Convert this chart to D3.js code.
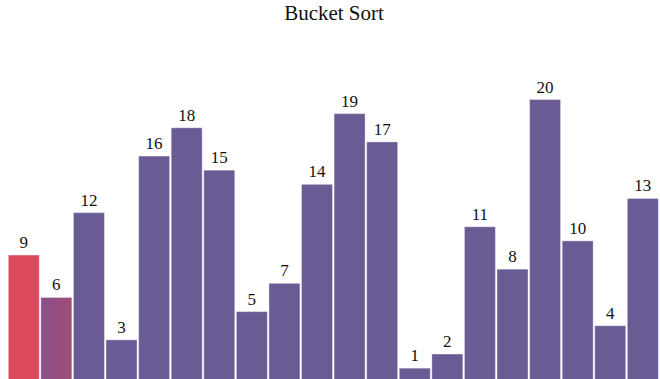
<!DOCTYPE html>
<html><head><meta charset="utf-8">
<script src="https://cdn.jsdelivr.net/npm/d3@7"></script>
<style>html,body{margin:0;padding:0;background:#fff;overflow:hidden}
svg text{font-family:"Times New Roman","Liberation Serif",Times,serif;}</style>
</head><body>
<script>
const title = "Bucket Sort";
const indices = d3.range(20);
const values = [9,6,12,3,16,18,15,5,7,14,19,17,1,2,11,8,20,10,4,13];
const states = ["active","moving","idle","idle","idle","idle","idle","idle","idle","idle","idle","idle","idle","idle","idle","idle","idle","idle","idle","idle"];
const colors = {active:"#da4a5c", moving:"url(#moveGrad)", idle:"#6b5b95"};

const W = 660, H = 379;
const svg = d3.select("body").append("svg").attr("width", W).attr("height", H);
const defs = svg.append("defs");
const g = defs.append("linearGradient").attr("id","moveGrad").attr("x1","0").attr("x2","1").attr("y1","0").attr("y2","0");
g.append("stop").attr("offset","0").attr("stop-color","#88508a");
g.append("stop").attr("offset","1").attr("stop-color","#a04c76");

const x = d3.scaleBand().domain(indices).range([8.3, 658.3]).paddingInner(0.05).paddingOuter(0);
const y = d3.scaleLinear().domain([0, 20]).range([382.3, 99.5]);

svg.append("text").attr("x", 334).attr("y", 20).attr("text-anchor","middle")
  .attr("font-size", 21).attr("fill","#111").text(title);

svg.selectAll("rect.bar").data(values).join("rect").attr("class","bar")
  .attr("x", (d,i) => x(i)).attr("width", x.bandwidth())
  .attr("y", d => y(d)).attr("height", d => y(0) - y(d))
  .attr("fill", (d,i) => colors[states[i]])
  .attr("stroke","rgba(255,255,255,0.35)").attr("stroke-width",1);

svg.selectAll("text.lbl").data(values).join("text").attr("class","lbl")
  .attr("x", (d,i) => x(i) + x.bandwidth()/2).attr("y", d => y(d) - 7)
  .attr("text-anchor","middle")
  .attr("font-size", 17).attr("fill","#111").text(d => d);
</script>
</body></html>
